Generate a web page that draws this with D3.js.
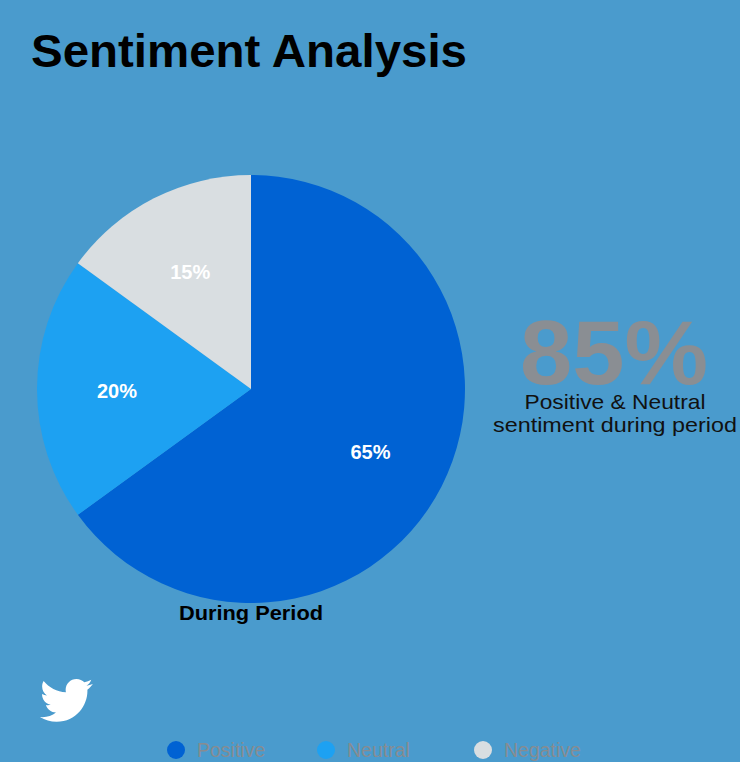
<!DOCTYPE html>
<html>
<head>
<meta charset="utf-8">
<script src="https://cdn.jsdelivr.net/npm/d3@7"></script>
<style>
    html, body { margin: 0; padding: 0; background: #4a9bcd; }
    svg { display: block; font-family: "Liberation Sans", Arial, Helvetica, sans-serif; }
</style>
</head>
<body>
<svg id="viz_sentiment"></svg>
<script>
var categories = ["Positive", "Neutral", "Negative"],
    values = [65, 20, 15],
    colors = ["#0062d3", "#1da1f2", "#d9dee1"],
    highlight_value = "85%",
    highlight_lines = ["Positive & Neutral", "sentiment during period"],
    pie_caption = "During Period",
    title = "Sentiment Analysis";

var width = 740,
    height = 762,
    cx = 251,
    cy = 389,
    radius = 214,
    label_radius = 134,
    sub_widths = [181, 244];

var svg = d3.select("svg#viz_sentiment")
    .attr("width", width)
    .attr("height", height);

svg.append("rect")
    .attr("width", width)
    .attr("height", height)
    .attr("fill", "#4a9bcd");

svg.append("text")
    .attr("x", 31)
    .attr("y", 67)
    .attr("textLength", 436)
    .attr("lengthAdjust", "spacingAndGlyphs")
    .style("font-size", "47px")
    .style("font-weight", "bold")
    .style("fill", "#000")
    .text(title);

var slices = categories.map(function(c, i) {
    return {"name": c, "value": values[i], "color": colors[i]};
});

var pie = d3.pie()
    .value(function(d) { return d.value; })
    .sort(null);

var arc = d3.arc()
    .innerRadius(0)
    .outerRadius(radius);

var label_arc = d3.arc()
    .innerRadius(label_radius)
    .outerRadius(label_radius);

var pie_g = svg.append("g")
    .attr("transform", "translate(" + [cx, cy] + ")");

var arcs = pie_g.selectAll("g.slice")
    .data(pie(slices))
    .enter()
    .append("g")
        .attr("class", "slice");

arcs.append("path")
    .attr("d", arc)
    .attr("fill", function(d) { return d.data.color; });

arcs.append("text")
    .attr("transform", function(d) {
        var c = label_arc.centroid(d);
        return "translate(" + [c[0], c[1] + 2] + ")";
    })
    .attr("text-anchor", "middle")
    .attr("dy", "0.35em")
    .style("font-size", "20px")
    .style("font-weight", "bold")
    .style("fill", "#fff")
    .text(function(d) { return d.data.value + "%"; });

svg.append("text")
    .attr("x", cx)
    .attr("y", 620)
    .attr("text-anchor", "middle")
    .attr("textLength", 144)
    .attr("lengthAdjust", "spacingAndGlyphs")
    .style("font-size", "21px")
    .style("font-weight", "bold")
    .style("fill", "#000")
    .text(pie_caption);

// big highlight on the right
svg.append("text")
    .attr("x", 614)
    .attr("y", 384)
    .attr("text-anchor", "middle")
    .attr("textLength", 188)
    .attr("lengthAdjust", "spacingAndGlyphs")
    .style("font-size", "90px")
    .style("font-weight", "bold")
    .style("fill", "#8a8e93")
    .text(highlight_value);

svg.selectAll("text.sub")
    .data(highlight_lines)
    .enter()
    .append("text")
        .attr("class", "sub")
        .attr("x", 615)
        .attr("y", function(d, i) { return 409 + i * 23; })
        .attr("text-anchor", "middle")
        .attr("textLength", function(d, i) { return sub_widths[i]; })
        .attr("lengthAdjust", "spacingAndGlyphs")
        .style("font-size", "21px")
        .style("fill", "#111")
        .text(function(d) { return d; });

// twitter bird
svg.append("path")
    .attr("d", "M23.954 4.569c-.885.389-1.83.654-2.825.775 1.014-.611 1.794-1.574 2.163-2.723-.951.555-2.005.959-3.127 1.184-.896-.959-2.173-1.559-3.591-1.559-2.717 0-4.920 2.203-4.920 4.917 0 .39.045.765.127 1.124C7.691 8.094 4.066 6.13 1.64 3.161c-.427.722-.666 1.561-.666 2.475 0 1.71.87 3.213 2.188 4.096-.807-.026-1.566-.248-2.228-.616v.061c0 2.385 1.693 4.374 3.946 4.827-.413.111-.849.171-1.296.171-.314 0-.615-.03-.916-.086.631 1.953 2.445 3.377 4.604 3.417-1.68 1.319-3.809 2.105-6.102 2.105-.39 0-.779-.023-1.17-.067 2.189 1.394 4.768 2.209 7.557 2.209 9.054 0 13.999-7.496 13.999-13.986 0-.209 0-.42-.015-.63.961-.689 1.8-1.56 2.46-2.548l-.047-.02z")
    .attr("fill", "#fff")
    .attr("transform", "translate(40,674) scale(2.2)");

// legend
var legend_x = [176, 326, 483];

var legend_g = svg.selectAll("g.legend_label")
    .data(slices)
    .enter()
    .append("g")
        .attr("class", "legend_label")
        .attr("transform", function(d, i) {
            return "translate(" + [legend_x[i], 750] + ")";
        });

legend_g.append("circle")
    .attr("r", 9)
    .attr("fill", function(d) { return d.color; });

legend_g.append("text")
    .attr("x", 21)
    .attr("y", 7)
    .style("font-size", "19.5px")
    .style("fill", "#878c91")
    .text(function(d) { return d.name; });
</script>
</body>
</html>
